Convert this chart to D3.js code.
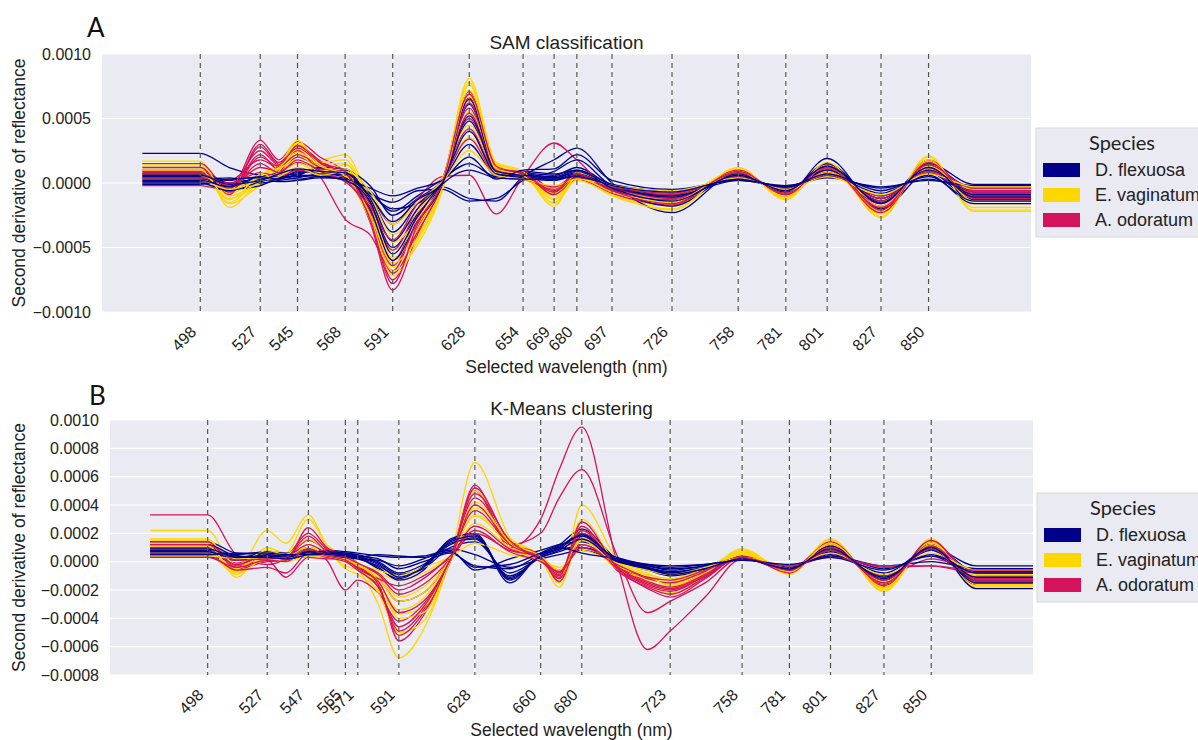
<!DOCTYPE html>
<html>
<head>
<meta charset="utf-8">
<script src="https://cdn.jsdelivr.net/npm/d3@7"></script>
<style>
  body { margin: 0; background: #fff; }
  svg { display: block; font-family: "Liberation Sans", Arial, sans-serif; }
</style>
</head>
<body>
<svg id="chart" width="1198" height="740"></svg>
<script>
// all spectra values are second derivative x 1e-4
const SPECIES = ['D. flexuosa', 'E. vaginatum', 'A. odoratum'];

const WL_A = [498, 512, 527, 536, 545, 556, 568, 580, 591, 603, 615, 628, 641, 654, 669, 680, 697, 726, 758, 781, 801, 827, 850, 872];
const WL_B = [498, 512, 527, 536, 547, 556, 565, 571, 581, 591, 603, 616, 628, 645, 660, 669, 680, 697, 712, 723, 740, 758, 781, 801, 827, 850, 872];

// the spectra are padded flat out to these
const WL_START = 470;
const WL_END = 900;

// selected wavelengths (dashed lines + tick labels)
const TICKS_A = [498, 527, 545, 568, 591, 628, 654, 669, 680, 697, 726, 758, 781, 801, 827, 850];
const TICKS_B = [498, 527, 547, 565, 571, 591, 628, 660, 680, 723, 758, 781, 801, 827, 850];

const Y_TICKS_A = [-10, -5, 0, 5, 10];
const Y_TICKS_B = [-8, -6, -4, -2, 0, 2, 4, 6, 8, 10];

// ---- A: SAM classification ----
const A_FLEXUOSA = [
  [2.3, 1.2, 0.6, 0.5, 0.8, 0.9, 0.8, -1.5, -5.0, -2.4, 0.0, 6.1, 1.0, 0.6, 0.4, 0.9, -0.4, -1.2, 0.6, -0.6, 1.2, -1.4, 1.3, -0.4],
  [0.9, 0.0, 0.4, 0.8, 1.0, 1.0, 0.9, -1.0, -3.8, -1.6, 0.2, 4.8, 0.9, 0.8, 0.6, 1.2, -0.2, -0.9, 0.5, -0.5, 1.0, -1.2, 1.1, -0.7],
  [0.7, -0.3, 0.2, 0.6, 0.7, 1.1, 1.0, -0.2, -2.5, -1.2, 0.1, 3.0, 0.6, 0.7, 0.4, 0.8, -0.3, -0.8, 0.4, -0.4, 0.8, -1.0, 0.9, -1.0],
  [0.5, 0.2, 0.5, 0.3, 0.9, 0.8, 0.6, -0.8, -2.0, -1.6, -0.3, -1.2, -1.4, 0.5, 1.8, 2.7, 0.0, -2.3, 0.8, -0.9, 1.9, -2.0, 0.8, -1.3],
  [0.4, -0.5, -0.2, 0.4, 0.6, 1.2, 1.1, -0.6, -2.2, -1.0, 0.3, 1.5, 0.5, 0.9, 0.7, 1.0, -0.1, -0.6, 0.3, -0.3, 0.6, -0.8, 0.6, -1.6],
  [0.3, 0.4, 0.0, 0.2, 0.4, 0.7, 0.5, -2.0, -6.0, -3.0, -0.2, 6.5, 0.8, 0.4, 0.2, 0.6, -0.5, -1.8, 0.7, -0.7, 1.5, -1.6, 1.5, -0.1],
  [0.1, -0.2, 0.3, 0.5, 0.3, 0.5, 0.4, -0.8, -1.5, -0.6, -0.5, -1.4, -1.2, 0.2, 0.9, 1.8, -0.2, -1.0, 0.2, -0.3, 0.5, -0.4, 0.3, -0.5],
  [0.0, -0.6, 0.1, 0.4, 0.5, 0.6, 0.7, -1.2, -4.5, -2.0, 0.1, 4.0, 0.7, 0.5, 0.3, 0.7, -0.3, -1.1, 0.5, -0.5, 1.0, -1.2, 1.0, -0.9],
  [-0.1, 0.3, 0.4, 0.1, 0.2, 0.4, 0.3, -0.4, -1.0, -0.4, 0.2, 2.0, 0.3, 1.0, 1.1, 2.2, 0.2, -0.5, 0.2, -0.2, 0.4, -0.3, 0.2, -0.2],
  [0.6, -0.1, 0.2, 0.7, 1.1, 0.9, 0.8, -1.0, -3.0, -1.3, 0.0, 5.2, 0.9, 0.6, 0.5, 1.0, -0.4, -1.4, 0.6, -0.6, 1.3, -1.5, 1.2, -1.1],
  [0.2, -0.3, 0.5, 0.3, 0.6, 0.5, 0.2, -1.4, -5.5, -2.6, -0.1, 1.0, 0.4, 0.3, 0.3, 0.5, -0.2, -0.7, 0.3, -0.3, 0.7, -0.6, 0.5, -1.4]
];
const A_VAGINATUM = [
  [1.7, -1.9, 0.2, 1.0, 3.0, 1.8, 2.2, -1.5, -5.8, -4.0, -0.3, 8.1, 1.5, 0.8, -1.8, 0.6, -0.8, -1.8, 1.1, -1.2, 1.5, -2.6, 2.0, -2.1],
  [1.2, -1.5, 0.5, 1.3, 3.3, 1.5, 1.5, -2.0, -6.5, -4.2, 0.0, 7.8, 1.3, 0.6, -1.5, 0.3, -1.0, -2.0, 0.9, -1.1, 1.2, -2.4, 1.8, -1.9],
  [0.8, -1.2, 0.0, 0.8, 2.6, 1.2, 1.0, -2.5, -7.2, -4.5, -0.5, 7.2, 1.4, 0.7, -1.2, 0.5, -0.6, -1.5, 0.8, -0.9, 1.4, -2.2, 1.6, -1.6],
  [0.4, -0.8, 0.6, 1.5, 2.8, 1.6, 1.8, -1.8, -6.0, -3.6, 0.2, 6.4, 1.0, 0.5, -1.0, 0.8, -0.4, -1.2, 1.0, -1.0, 1.0, -2.0, 1.5, -1.2],
  [0.9, -1.6, -0.2, 0.6, 2.2, 1.0, 0.8, -2.2, -5.2, -3.2, -0.2, 5.5, 1.2, 0.4, -0.8, 0.4, -0.5, -1.6, 0.7, -0.8, 0.9, -1.8, 1.3, -0.9],
  [0.3, -0.6, 0.3, 1.1, 1.8, 0.9, 1.4, -1.2, -4.6, -2.8, 0.3, 4.5, 0.9, 0.3, -0.6, 0.6, -0.3, -1.0, 0.6, -0.7, 0.8, -1.5, 1.1, -0.5],
  [1.4, -1.0, 0.1, 0.9, 3.1, 1.4, 0.5, -2.8, -6.8, -4.8, -0.6, 7.6, 1.6, 0.9, -1.6, 0.2, -0.9, -2.1, 1.2, -1.3, 1.6, -2.7, 2.1, -2.2],
  [0.6, -0.4, 0.4, 0.7, 1.5, 0.8, 1.1, -1.0, -4.0, -2.2, 0.4, 3.5, 0.8, 0.5, -0.4, 0.5, -0.2, -0.8, 0.5, -0.6, 0.7, -1.2, 0.9, -0.5],
  [1.0, -1.3, 0.7, 1.2, 2.4, 1.3, 0.6, -2.4, -6.2, -4.3, -0.4, 6.8, 1.1, 0.6, -1.3, 0.4, -0.7, -1.4, 0.9, -1.0, 1.3, -2.3, 1.7, -1.4],
  [0.2, -0.5, 0.2, 0.5, 1.2, 0.6, 0.9, -0.6, -3.2, -1.5, 0.1, 2.5, 0.6, 0.3, -0.2, 0.3, -0.2, -0.6, 0.4, -0.5, 0.5, -0.9, 0.7, -0.3]
];
const A_ODORATUM = [
  [1.5, -0.5, 3.3, 1.8, 3.2, 2.0, 0.8, -3.0, -8.3, -4.0, 0.2, 7.1, 1.2, 0.7, -0.6, 0.6, -0.6, -1.5, 0.9, -0.9, 1.4, -2.2, 1.8, -1.1],
  [1.0, -0.8, 2.8, 1.5, 2.9, 1.7, 0.5, -2.6, -7.5, -3.5, 0.0, 6.6, 1.0, 0.5, -0.8, 0.4, -0.7, -1.3, 0.8, -0.8, 1.2, -2.0, 1.5, -0.9],
  [0.6, 0.2, 1.8, 1.2, 2.5, 0.5, -2.8, -4.0, -6.8, -2.8, 0.3, 5.8, 0.8, 0.9, -0.5, 0.8, -0.5, -1.1, 0.6, -0.7, 1.0, -1.8, 1.3, -0.6],
  [-0.2, -0.6, 2.2, 1.0, 2.0, 1.2, 0.6, -2.0, -6.0, -2.5, 0.1, 5.0, 0.9, 0.6, -0.4, 0.5, -0.4, -1.2, 0.7, -0.6, 0.9, -1.6, 1.2, -1.3],
  [0.8, -0.3, 1.2, 0.9, 1.6, 1.0, 0.4, -1.6, -5.2, -2.0, 0.4, 4.2, 0.7, 0.4, -0.3, 0.6, -0.3, -1.0, 0.5, -0.5, 0.8, -1.4, 1.0, -0.3],
  [1.2, -0.9, 3.0, 1.6, 2.7, 1.5, 0.7, -2.2, -7.0, -3.8, -0.2, 6.2, 1.1, 0.8, -0.9, 0.3, -0.8, -1.7, 1.0, -1.0, 1.5, -2.1, 1.7, -1.0],
  [0.4, 0.0, 0.8, 0.5, 1.0, 0.6, 0.2, -1.0, -3.2, -1.2, 0.5, 0.6, -2.4, 0.5, 3.1, 1.8, -0.5, -0.9, 0.4, -0.4, 0.6, -1.0, 0.8, -0.8],
  [0.9, -0.7, 2.0, 1.3, 2.2, 1.3, 0.3, -2.4, -6.4, -3.0, -0.1, 5.4, 1.0, 0.6, -0.7, 0.5, -0.6, -1.4, 0.8, -0.8, 1.1, -1.9, 1.4, -0.7],
  [0.2, -0.4, 1.5, 0.8, 1.8, 0.9, 0.1, -1.8, -4.4, -1.6, 0.2, 3.4, 0.6, 0.3, -0.3, 0.4, -0.3, -0.8, 0.5, -0.5, 0.7, -1.2, 0.9, -0.4],
  [0.7, -0.2, 2.5, 1.4, 2.9, 1.6, 0.9, -2.8, -7.8, -3.2, 0.0, 6.9, 1.3, 0.7, -0.6, 0.7, -0.6, -1.6, 0.9, -0.9, 1.3, -2.3, 1.6, -1.2]
];

// ---- B: K-Means clustering ----
const B_FLEXUOSA = [
  [1.4, 0.6, 0.5, 0.3, 0.7, 0.6, 0.5, 0.3, -0.5, -1.2, -0.3, 1.5, 1.9, -1.5, 0.6, 1.2, 2.3, 0.2, -0.4, -0.8, -0.4, 0.3, -0.5, 0.9, -1.2, 1.0, -0.3],
  [1.0, 0.3, 0.6, 0.4, 0.8, 0.7, 0.6, 0.5, 0.0, -0.8, -0.2, 1.2, 1.7, -1.2, 0.4, 1.0, 2.0, 0.1, -0.5, -0.9, -0.5, 0.3, -0.6, 1.0, -1.3, 1.1, -0.7],
  [0.6, 0.4, 0.2, 0.5, 0.6, 0.8, 0.7, 0.6, 0.4, 0.3, 0.4, 0.8, -0.6, 0.2, 0.8, 1.2, 1.4, 0.3, -0.2, -0.4, -0.2, 0.2, -0.3, 0.5, -0.5, 0.4, -1.0],
  [0.3, 0.1, 0.4, 0.3, 0.5, 0.5, 0.4, 0.2, -0.3, -1.0, -0.5, 1.0, 1.4, -0.8, 0.3, 0.7, 1.2, 0.0, -0.6, -1.0, -0.6, 0.2, -0.5, 0.7, -1.0, 0.8, -1.3],
  [0.8, 0.5, 0.7, 0.6, 0.9, 0.6, 0.5, 0.4, 0.2, -0.5, 0.0, 0.6, -0.3, -0.5, 0.5, 0.9, 1.0, 0.2, -0.3, -0.5, -0.3, 0.3, -0.4, 0.6, -0.8, 0.9, -1.6],
  [1.2, 0.4, 0.3, 0.2, 0.4, 0.6, 0.5, 0.3, -0.4, -1.3, -0.6, 1.6, 2.0, -1.3, 0.5, 1.1, 1.8, 0.1, -0.5, -0.8, -0.5, 0.3, -0.6, 1.1, -1.4, 1.2, -1.9],
  [0.4, 0.2, 0.5, 0.4, 0.6, 0.4, 0.3, 0.2, 0.1, -0.3, 0.2, 0.9, 0.5, -0.4, 0.2, 0.5, 0.8, 0.1, -0.3, -0.6, -0.3, 0.2, -0.3, 0.4, -0.3, 0.0, -0.5],
  [0.7, 0.2, 0.4, 0.3, 0.7, 0.7, 0.6, 0.4, -0.1, -0.9, -0.4, 1.3, 1.6, -1.0, 0.3, 0.8, 1.6, 0.0, -0.4, -0.7, -0.4, 0.3, -0.5, 0.8, -1.1, 0.9, -1.1],
  [0.5, 0.6, 0.6, 0.5, 0.5, 0.5, 0.4, 0.3, 0.5, 0.4, 0.3, 0.7, -0.4, -0.2, 0.6, 1.0, 0.6, 0.2, -0.2, -0.3, -0.2, 0.1, -0.2, 0.3, -0.6, 0.5, -0.8],
  [0.9, 0.3, 0.3, 0.2, 0.5, 0.6, 0.5, 0.3, -0.2, -1.1, -0.4, 1.4, 1.8, -1.1, 0.4, 0.9, 1.9, 0.1, -0.5, -0.9, -0.5, 0.2, -0.5, 0.9, -1.2, 1.0, -1.5]
];
const B_VAGINATUM = [
  [2.2, -0.6, 2.2, 1.3, 3.3, 1.2, 0.4, -0.5, -3.0, -6.8, -4.8, 0.2, 7.0, 1.7, 0.2, -1.8, 1.8, -0.4, -1.4, -1.8, -0.8, 0.9, -0.8, 1.6, -2.1, 1.6, -1.9],
  [1.6, -1.1, 1.0, 0.6, 3.0, 1.0, -0.5, -0.9, -2.0, -3.7, -3.2, 0.0, 3.3, 1.5, 0.4, -1.5, 4.0, 0.2, -1.6, -2.2, -1.2, 0.8, -0.7, 1.4, -1.9, 1.5, -1.7],
  [0.5, -0.9, 0.4, 0.2, 1.2, 0.6, -0.3, -0.6, -1.5, -3.4, -2.6, 0.3, 3.8, 1.6, 0.3, -1.2, 3.0, -0.2, -1.3, -1.9, -0.9, 0.7, -0.6, 1.2, -1.7, 1.3, -1.5],
  [1.3, -0.4, 0.5, 0.3, 0.8, 0.5, 0.2, -0.2, -1.0, -2.5, -1.8, 0.2, 2.7, 1.0, 0.2, -0.9, 1.8, -0.3, -1.1, -1.6, -0.7, 0.6, -0.5, 1.0, -1.5, 1.1, -1.2],
  [0.9, -0.7, 0.3, 0.1, 0.6, 0.4, 0.1, -0.3, -0.8, -1.3, -0.8, 0.4, 2.0, 0.8, 0.1, -0.7, 1.2, -0.2, -0.9, -1.2, -0.5, 0.5, -0.4, 0.8, -1.2, 0.9, -0.9],
  [1.5, -0.2, 0.8, 0.5, 1.6, 0.7, 0.0, -0.4, -2.2, -5.0, -4.2, 0.1, 5.0, 1.3, 0.0, -1.0, 1.5, -0.5, -1.2, -1.5, -0.6, 0.8, -0.9, 1.5, -2.0, 1.4, -1.8],
  [0.7, -0.5, 0.6, 0.4, 1.0, 0.5, 0.3, -0.1, -1.2, -2.8, -2.2, 0.2, 3.2, 1.2, 0.3, -0.8, 2.2, -0.1, -0.8, -1.4, -0.6, 0.5, -0.5, 0.9, -1.4, 1.0, -1.0],
  [1.1, -0.8, 0.2, 0.0, 0.4, 0.3, 0.2, -0.2, -1.4, -4.0, -3.6, 0.0, 4.2, 1.4, 0.4, -0.6, 1.6, -0.3, -1.0, -1.7, -0.8, 0.7, -0.7, 1.3, -1.8, 1.2, -1.6],
  [0.4, 0.2, 0.3, 0.2, 0.5, 0.4, 0.1, -0.2, -0.6, -1.0, -0.4, 0.3, 1.3, 0.5, 0.1, -0.4, 0.8, -0.1, -0.6, -0.9, -0.4, 0.3, -0.3, 0.6, -0.9, 0.6, -0.6]
];
const B_ODORATUM = [
  [3.3, 0.5, -0.2, 0.2, 1.5, 0.8, 0.3, -0.2, -1.8, -4.9, -3.4, 0.1, 5.4, 1.0, 3.0, 6.5, 9.5, 0.0, -6.2, -4.9, -2.5, 0.2, -0.6, 1.0, -1.4, 1.2, -1.4],
  [1.2, -0.3, 0.1, -1.1, 0.3, 0.2, 0.2, -0.4, -1.5, -5.6, -3.8, 0.2, 5.0, 1.2, 2.0, 4.5, 6.5, 0.5, -3.6, -2.8, -1.5, 0.3, -0.7, 1.2, -1.6, 1.3, -1.1],
  [0.8, -0.2, 0.4, 0.3, 1.0, 0.1, -2.0, -1.3, -2.2, -4.2, -3.0, 0.1, 4.5, 1.3, 0.2, -1.2, 2.5, -0.6, -1.8, -2.3, -1.1, 0.4, -0.6, 1.1, -1.5, 1.2, -1.6],
  [1.0, -0.4, 0.2, 0.4, 2.0, 0.9, 0.4, -0.3, -1.2, -2.8, -2.2, 0.3, 3.6, 1.2, 0.1, -1.1, 2.0, -0.4, -1.6, -2.0, -1.0, 0.3, -0.5, 1.3, -1.7, 1.4, -1.0],
  [0.6, -0.1, 0.3, 0.2, 0.8, 0.5, 0.1, -0.2, -0.9, -2.3, -1.6, 0.2, 2.5, 0.9, 0.2, -0.9, 1.5, -0.3, -1.4, -1.8, -0.8, 0.2, -0.4, 0.6, -1.0, 0.2, -0.5],
  [1.4, -0.5, 0.0, 0.1, 2.4, 1.0, 0.5, -0.1, -1.6, -5.2, -3.6, 0.0, 5.2, 1.4, 0.4, -1.4, 1.8, -0.5, -1.9, -2.5, -1.2, 0.4, -0.8, 1.4, -1.8, 1.5, -1.3],
  [0.9, -0.2, 0.5, 0.4, 1.2, 0.6, 0.2, -0.5, -1.2, -1.7, -1.0, 0.3, 2.0, 0.8, 0.3, -0.6, 1.2, -0.2, -1.2, -1.5, -0.7, 0.2, -0.3, 0.4, -0.4, -0.3, -0.8],
  [0.5, -0.6, -0.4, -0.8, 0.6, 0.3, 0.0, -0.6, -1.8, -4.6, -3.2, 0.2, 4.8, 1.5, 0.1, -1.0, 2.8, -0.4, -1.7, -2.1, -1.0, 0.3, -0.6, 1.0, -1.5, 1.1, -1.2],
  [1.2, 0.1, 0.2, 0.3, 1.8, 0.7, 0.3, -0.1, -0.8, -2.0, -1.2, 0.4, 2.2, 0.7, 0.0, -0.7, 1.0, -0.2, -1.1, -1.3, -0.6, 0.2, -0.3, 0.3, -0.3, -0.3, -0.6],
  [0.3, -0.4, 0.1, 0.0, 0.9, 0.4, 0.1, -0.4, -1.4, -3.6, -2.8, 0.1, 4.0, 1.2, 0.3, -0.8, 2.2, -0.3, -1.5, -1.9, -0.9, 0.3, -0.5, 0.8, -1.3, 0.9, -1.5]
];


class SpectraPanel {

  constructor(_config, _data) {
    this.config = {
      parentElement: _config.parentElement,
      id: _config.id,
      left: _config.left,
      right: _config.right,
      top: _config.top,
      bottom: _config.bottom,
      yDomain: _config.yDomain,
      yTicks: _config.yTicks,
      xTicks: _config.xTicks,
      title: _config.title,
      titleY: _config.titleY,
      letter: _config.letter,
      letterX: _config.letterX,
      letterY: _config.letterY,
      xLabelY: _config.xLabelY,
      legendX: _config.legendX,
      legendY: _config.legendY
    };
    this.data = _data;
    this.initVis();
  }

  initVis() {
    let vis = this;
    const c = vis.config;

    vis.svg = d3.select(c.parentElement);
    vis.chart = vis.svg.append('g').attr('class', 'panel-' + c.id);

    vis.xScale = d3.scaleLinear()
        .domain([450.5, 899.5])
        .range([c.left, c.right]);

    vis.yScale = d3.scaleLinear()
        .domain(c.yDomain)
        .range([c.bottom, c.top]);

    vis.color = d3.scaleOrdinal()
        .domain(SPECIES)
        .range(['#00008b', '#ffd700', '#d5135b']);

    vis.line = d3.line()
        .x(d => vis.xScale(d[0]))
        .y(d => vis.yScale(d[1]))
        .curve(d3.curveMonotoneX);

    vis.fmt = d3.format('.4f');

    vis.renderVis();
  }

  renderVis() {
    let vis = this;
    const c = vis.config;

    // seaborn darkgrid background
    vis.chart.append('rect')
        .attr('x', c.left)
        .attr('y', c.top)
        .attr('width', c.right - c.left)
        .attr('height', c.bottom - c.top)
        .attr('fill', '#eaeaf2');

    vis.chart.append('clipPath')
        .attr('id', 'clip-' + c.id)
      .append('rect')
        .attr('x', c.left)
        .attr('y', c.top)
        .attr('width', c.right - c.left)
        .attr('height', c.bottom - c.top);

    vis.chart.append('g').selectAll('line')
        .data(c.yTicks)
      .join('line')
        .attr('x1', c.left)
        .attr('x2', c.right)
        .attr('y1', d => vis.yScale(d))
        .attr('y2', d => vis.yScale(d))
        .attr('stroke', '#fff')
        .attr('stroke-width', 1.1);

    vis.chart.append('g').selectAll('line')
        .data(c.xTicks)
      .join('line')
        .attr('x1', d => vis.xScale(d))
        .attr('x2', d => vis.xScale(d))
        .attr('y1', c.top)
        .attr('y2', c.bottom)
        .attr('stroke', '#fff')
        .attr('stroke-width', 1.1);

    // spectra
    const marks = vis.chart.append('g')
        .attr('clip-path', `url(#clip-${c.id})`);
    marks.selectAll('.spectrum')
        .data(vis.data)
      .join('path')
        .attr('class', 'spectrum')
        .attr('d', d => vis.line(d.points))
        .attr('fill', 'none')
        .attr('stroke', d => vis.color(d.species))
        .attr('stroke-width', 1.3);

    // dashed selected wavelengths
    vis.chart.append('g').selectAll('line')
        .data(c.xTicks)
      .join('line')
        .attr('x1', d => vis.xScale(d))
        .attr('x2', d => vis.xScale(d))
        .attr('y1', c.top)
        .attr('y2', c.bottom)
        .attr('stroke', '#555')
        .attr('stroke-width', 1.2)
        .attr('stroke-dasharray', '5,4');

    // axes
    const yAxis = d3.axisLeft(vis.yScale)
        .tickValues(c.yTicks)
        .tickSize(0)
        .tickPadding(11)
        .tickFormat(d => vis.fmt(d * 1e-4));

    const yAxisG = vis.chart.append('g')
        .attr('transform', `translate(${c.left},0)`)
        .call(yAxis);
    yAxisG.select('.domain').remove();
    yAxisG.selectAll('text')
        .style('font-size', '16px')
        .style('font-family', '"Liberation Sans", Arial, sans-serif')
        .attr('fill', '#222');

    const xAxis = d3.axisBottom(vis.xScale)
        .tickValues(c.xTicks)
        .tickSize(0)
        .tickFormat(d => d);

    const xAxisG = vis.chart.append('g')
        .attr('transform', `translate(0,${c.bottom})`)
        .call(xAxis);
    xAxisG.select('.domain').remove();
    xAxisG.selectAll('text')
        .attr('x', -3.5)
        .attr('y', 21)
        .attr('dy', 0)
        .attr('text-anchor', 'end')
        .attr('transform', 'rotate(-45 -3.5 21)')
        .style('font-size', '16px')
        .style('font-family', '"Liberation Sans", Arial, sans-serif')
        .attr('fill', '#222');

    const midX = (c.left + c.right) / 2;
    const midY = (c.top + c.bottom) / 2;

    vis.chart.append('text')
        .attr('x', midX)
        .attr('y', c.titleY)
        .attr('text-anchor', 'middle')
        .style('font-size', '19px')
        .attr('fill', '#222')
        .text(c.title);

    vis.chart.append('text')
        .attr('x', midX)
        .attr('y', c.xLabelY)
        .attr('text-anchor', 'middle')
        .style('font-size', '17.5px')
        .attr('fill', '#222')
        .text('Selected wavelength (nm)');

    vis.chart.append('text')
        .attr('transform', `translate(25,${midY}) rotate(-90)`)
        .attr('text-anchor', 'middle')
        .style('font-size', '17.5px')
        .attr('fill', '#222')
        .text('Second derivative of reflectance');

    vis.chart.append('text')
        .attr('x', c.letterX)
        .attr('y', c.letterY)
        .style('font-family', 'Lato, "Liberation Sans", sans-serif')
        .style('font-size', '26px')
        .attr('fill', '#111')
        .text(c.letter);

    // legend
    const leg = vis.chart.append('g')
        .attr('transform', `translate(${c.legendX},${c.legendY})`);
    leg.append('rect')
        .attr('width', 200)
        .attr('height', 109)
        .attr('fill', '#eaeaf2')
        .attr('stroke', '#d8d8e0');
    leg.append('text')
        .attr('x', 86)
        .attr('y', 22)
        .attr('text-anchor', 'middle')
        .style('font-family', 'Lato, "Liberation Sans", sans-serif')
        .style('font-size', '20px')
        .attr('fill', '#222')
        .text('Species');
    const items = leg.selectAll('.item')
        .data(SPECIES)
      .join('g')
        .attr('class', 'item')
        .attr('transform', (d, i) => `translate(0,${35 + i * 25})`);
    items.append('rect')
        .attr('x', 7)
        .attr('width', 37)
        .attr('height', 14)
        .attr('fill', d => vis.color(d));
    items.append('text')
        .attr('x', 59)
        .attr('y', 13)
        .style('font-size', '18px')
        .attr('fill', '#222')
        .text(d => d);
  }
}

// interleave the species so no colour sits entirely on top
function buildLines(wl, groups) {
  const rows = [];
  const n = d3.max(groups, g => g.values.length);
  for (let i = 0; i < n; i++) {
    groups.forEach(g => {
      const v = g.values[i];
      if (!v) return;
      const pts = wl.map((w, j) => [w, v[j]]);
      // flat padding at both ends like in the original figure
      pts.unshift([WL_START, v[0]]);
      pts.push([WL_END, v[v.length - 1]]);
      rows.push({ species: g.species, points: pts });
    });
  }
  return rows;
}

const linesA = buildLines(WL_A, [
  { species: SPECIES[1], values: A_VAGINATUM },
  { species: SPECIES[2], values: A_ODORATUM },
  { species: SPECIES[0], values: A_FLEXUOSA }
]);
const linesB = buildLines(WL_B, [
  { species: SPECIES[1], values: B_VAGINATUM },
  { species: SPECIES[2], values: B_ODORATUM },
  { species: SPECIES[0], values: B_FLEXUOSA }
]);

new SpectraPanel({
  parentElement: '#chart', id: 'A',
  left: 102, right: 1031, top: 54, bottom: 312,
  yDomain: [-10, 10], yTicks: Y_TICKS_A, xTicks: TICKS_A,
  title: 'SAM classification', titleY: 49,
  letter: 'A', letterX: 87, letterY: 37,
  xLabelY: 373, legendX: 1036, legendY: 128
}, linesA);

new SpectraPanel({
  parentElement: '#chart', id: 'B',
  left: 110, right: 1033, top: 420, bottom: 675,
  yDomain: [-8, 10], yTicks: Y_TICKS_B, xTicks: TICKS_B,
  title: 'K-Means clustering', titleY: 415,
  letter: 'B', letterX: 89, letterY: 405,
  xLabelY: 736, legendX: 1037, legendY: 493
}, linesB);
</script>
</body>
</html>
